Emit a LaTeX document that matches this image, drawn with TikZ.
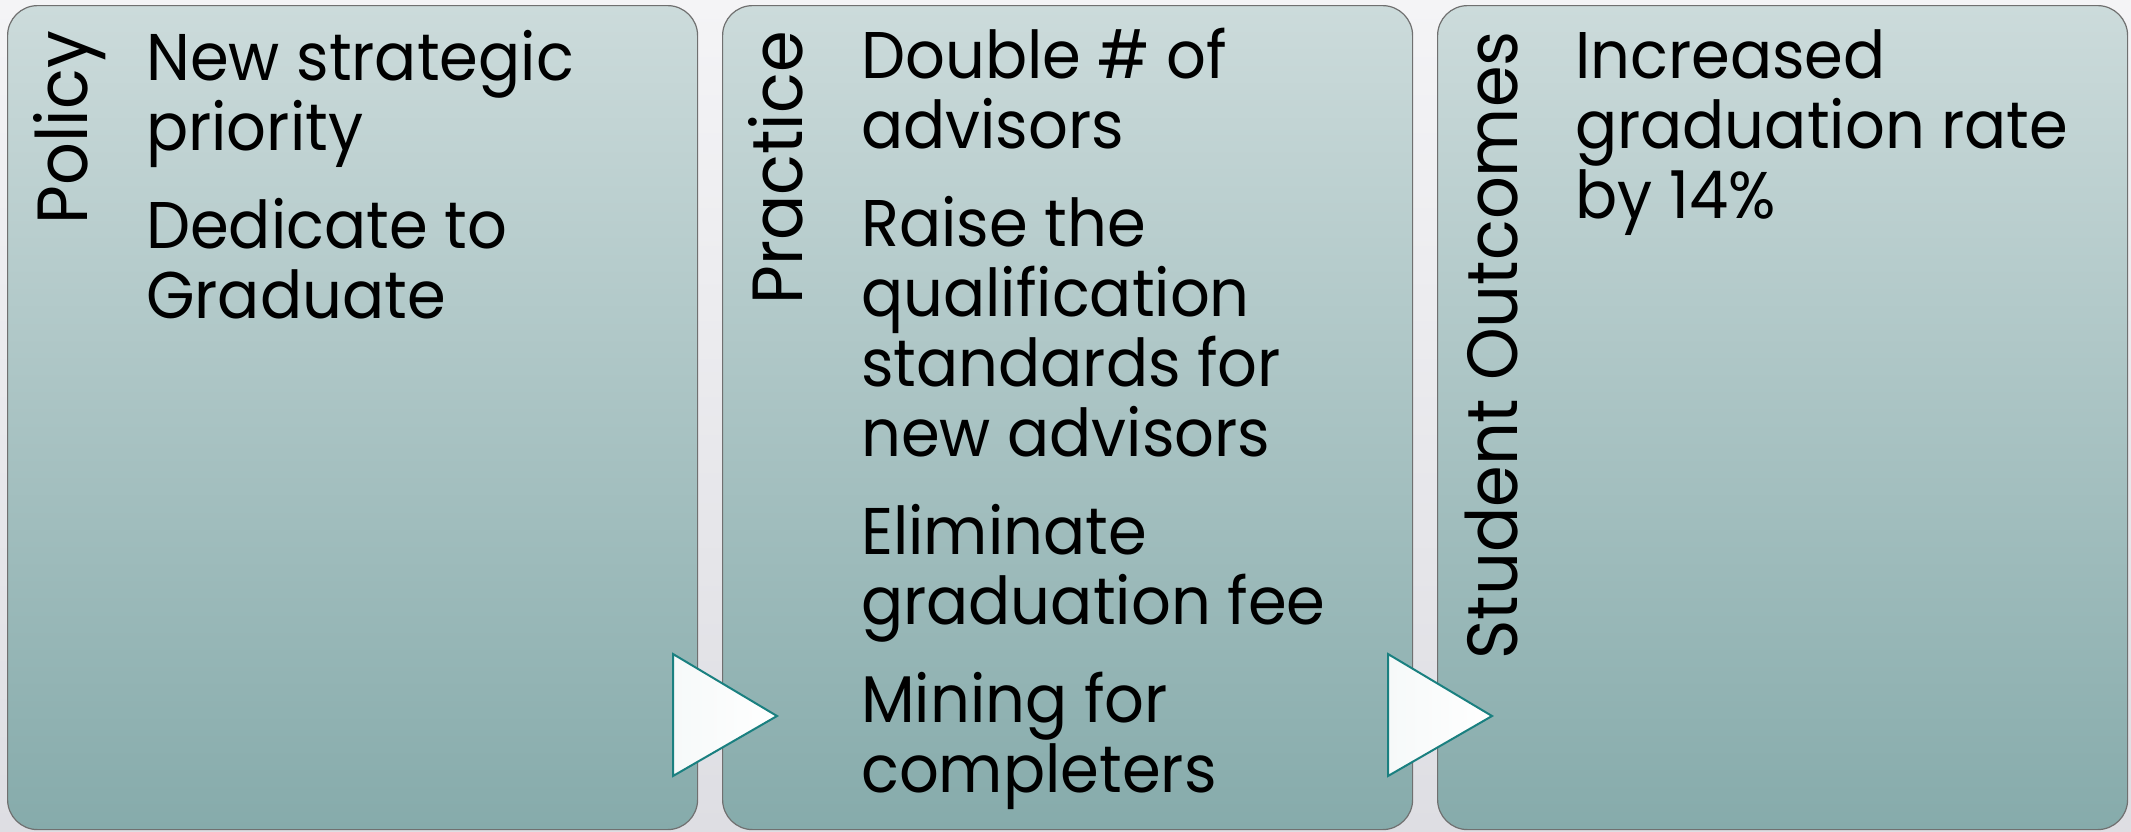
\documentclass[tikz,border=0pt]{standalone}
\usepackage{fontspec}
\setmainfont{Poppins}[FakeStretch=0.945]
\definecolor{boxtop}{RGB}{204,219,219}
\definecolor{boxbot}{RGB}{134,171,171}
\definecolor{bgtop}{RGB}{244,244,246}
\definecolor{bgbot}{RGB}{222,222,227}
\definecolor{edgegray}{RGB}{112,112,112}
\definecolor{arrowedge}{RGB}{26,128,128}
\definecolor{arrowfill}{RGB}{246,249,249}
\begin{document}
\begin{tikzpicture}[x=1pt,y=-1pt,
  panel/.style={draw=edgegray, line width=1.2pt, rounded corners=30pt,
    top color=boxtop, bottom color=boxbot, minimum width=690pt,
    minimum height=824pt, inner sep=0pt, anchor=north west},
  sidelabel/.style={rotate=90, anchor=base east, inner sep=0pt,
    font=\fontsize{71}{71}\selectfont},
  body/.style={anchor=base west, inner sep=0pt,
    font=\fontsize{66}{70}\selectfont},
  chevron/.style={draw=arrowedge, line width=2pt, line join=miter,
    left color=arrowfill, right color=white}
]
\path[top color=bgtop, bottom color=bgbot] (0,0) rectangle (2131,831);
\useasboundingbox (0,0) rectangle (2131,831);

\node[panel] (p1) at (7,5) {};
\node[panel] (p2) at (722,5) {};
\node[panel] (p3) at (1437,5) {};

\coordinate (a1t) at (673,654);
\coordinate (a1b) at (673,776);
\coordinate (a1p) at (777,716);
\coordinate (a2t) at (1388,654);
\coordinate (a2b) at (1388,776);
\coordinate (a2p) at (1492,716);
\draw[chevron] (a1t) -- (a1b) -- (a1p) -- cycle;
\draw[chevron] (a2t) -- (a2b) -- (a2p) -- cycle;

\node[sidelabel] (l1) at (87,31) {Policy};
\node[sidelabel] (l2) at (802,31) {Practice};
\node[sidelabel] (l3) at (1517,31) {Student Outcomes};

\node[body] (t1) at (146,80) {\parbox[t]{540pt}{\raggedright
  New strategic\\priority\\[28pt]Dedicate to\\Graduate}};
\node[body] (t2) at (861,78) {\parbox[t]{540pt}{\raggedright
  Double \# of\\advisors\\[28pt]Raise the\\qualification\\standards for\\new advisors\\[28pt]Eliminate\\graduation fee\\[28pt]Mining for\\completers}};
\node[body] (t3) at (1575,78) {\parbox[t]{540pt}{\raggedright
  Increased\\graduation rate\\by 14\%}};
\end{tikzpicture}
\end{document}
